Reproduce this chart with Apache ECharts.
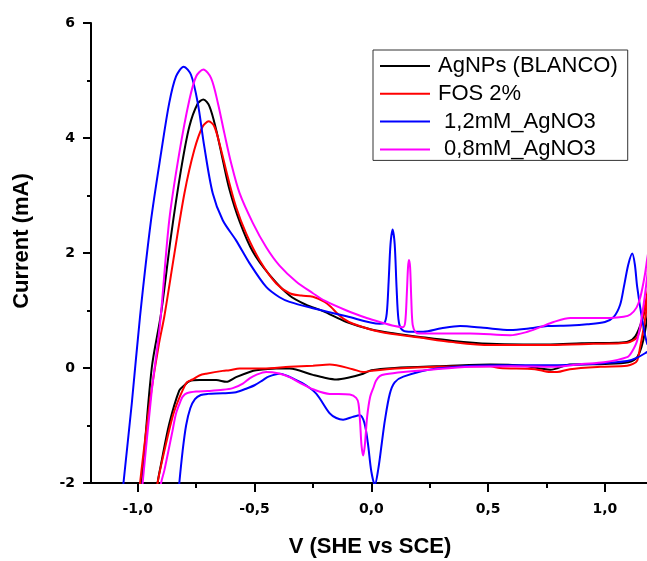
<!DOCTYPE html>
<html><head><meta charset="utf-8">
<script src="https://cdn.jsdelivr.net/npm/echarts@6/dist/echarts.min.js"></script>
<style>html,body{margin:0;padding:0;background:#fff}#c{width:647px;height:561px}</style>
</head><body><div id="c"></div>
<script>
// ---- data (potential V, current mA), each loop traced in scan order ----
const seriesNames = ['AgNPs (BLANCO)', 'FOS 2%', ' 1,2mM_AgNO3', ' 0,8mM_AgNO3'];
const seriesColors = ['#000000', '#ff0000', '#0000ff', '#ff00ff'];
const xMajorTicks = [-1, -0.5, 0, 0.5, 1];
const xMinorTicks = [-0.75, -0.25, 0.25, 0.75];
const yMajorTicks = [-2, 0, 2, 4, 6];
const yMinorTicks = [-1, 1, 3, 5];
const xRange = [-1.2, 1.18];
const yRange = [-2, 6];
const xTitle = 'V (SHE vs SCE)';
const yTitle = 'Current (mA)';

const blanco = [
  [-1.01,-3.2],[-0.983,-2.0],[-0.94,0.0],[-0.9,0.95],[-0.858,2.28],[-0.815,3.44],[-0.779,4.2],
  [-0.743,4.6],[-0.719,4.67],[-0.693,4.55],[-0.664,4.14],[-0.636,3.62],[-0.607,3.1],[-0.564,2.55],
  [-0.507,2.02],[-0.436,1.62],[-0.35,1.26],[-0.28,1.1],[-0.207,0.99],[-0.106,0.8],[0.0,0.67],
  [0.1,0.6],[0.208,0.54],[0.35,0.47],[0.509,0.42],[0.65,0.41],[0.766,0.41],[0.9,0.43],[1.05,0.44],
  [1.1,0.46],[1.13,0.55],[1.16,0.85],[1.2,1.5],
  [1.17,0.6],[1.14,0.2],[1.1,0.1],[1.0,0.07],[0.85,0.06],[0.766,-0.03],[0.65,0.04],[0.509,0.06],
  [0.28,0.03],[0.1,0.0],[0.0,-0.04],[-0.035,-0.1],[-0.1,-0.17],[-0.149,-0.2],[-0.2,-0.17],
  [-0.25,-0.12],[-0.35,-0.01],[-0.407,-0.01],[-0.493,-0.04],[-0.521,-0.07],[-0.579,-0.16],
  [-0.621,-0.24],[-0.664,-0.21],[-0.736,-0.21],[-0.779,-0.23],[-0.8,-0.3],[-0.822,-0.39],
  [-0.865,-0.97],[-0.9,-1.67],[-0.915,-2.0],[-0.94,-3.0]
];
const fos = [
  [-1.02,-3.2],[-0.99,-2.0],[-0.945,-0.5],[-0.91,0.4],[-0.886,0.9],[-0.843,1.99],[-0.8,3.04],
  [-0.758,3.79],[-0.722,4.2],[-0.696,4.29],[-0.672,4.2],[-0.643,3.79],[-0.615,3.33],[-0.579,2.8],
  [-0.536,2.34],[-0.479,1.88],[-0.407,1.47],[-0.35,1.3],[-0.3,1.26],[-0.25,1.24],[-0.2,1.15],
  [-0.17,1.05],[-0.149,0.96],[-0.12,0.86],[-0.078,0.77],[0.036,0.63],[0.208,0.53],[0.35,0.45],
  [0.509,0.40],[0.766,0.40],[0.95,0.42],[1.095,0.44],[1.138,0.54],[1.16,0.85],[1.181,1.3],[1.2,1.8],
  [1.19,1.4],[1.17,0.8],[1.15,0.35],[1.138,0.13],[1.12,0.07],[1.095,0.04],[0.98,0.02],[0.85,-0.02],
  [0.795,-0.07],[0.766,-0.07],[0.7,-0.02],[0.55,0.0],[0.509,0.03],[0.28,0.02],[0.108,-0.01],
  [0.0,-0.05],[-0.035,-0.07],[-0.08,-0.02],[-0.178,0.06],[-0.25,0.04],[-0.35,0.02],[-0.464,-0.01],
  [-0.564,-0.01],[-0.607,-0.04],[-0.636,-0.05],[-0.707,-0.1],[-0.736,-0.13],[-0.765,-0.2],
  [-0.79,-0.25],[-0.808,-0.39],[-0.83,-0.6],[-0.851,-0.85],[-0.879,-1.32],[-0.915,-2.0],[-0.94,-2.8]
];
const agno3_12 = [
  [-1.09,-3.2],[-1.061,-2.0],[-1.025,-0.6],[-0.99,0.9],[-0.943,2.57],[-0.9,3.74],[-0.865,4.61],
  [-0.836,5.07],[-0.803,5.24],[-0.772,5.1],[-0.743,4.61],[-0.715,3.85],[-0.679,3.04],[-0.636,2.57],
  [-0.579,2.22],[-0.521,1.82],[-0.45,1.41],[-0.393,1.23],[-0.35,1.15],[-0.25,1.04],[-0.106,0.9],
  [0.036,0.77],[0.055,0.78],[0.066,0.95],[0.074,1.5],[0.082,2.15],[0.091,2.41],[0.1,2.15],
  [0.108,1.4],[0.116,0.85],[0.128,0.68],[0.16,0.63],[0.222,0.63],[0.3,0.69],[0.38,0.73],[0.48,0.7],
  [0.594,0.66],[0.68,0.69],[0.752,0.73],[0.85,0.74],[0.924,0.76],[1.0,0.8],[1.038,0.89],
  [1.065,1.1],[1.081,1.41],[1.1,1.8],[1.117,1.99],[1.128,1.8],[1.138,1.41],[1.16,0.83],
  [1.181,0.42],[1.2,0.33],
  [1.181,0.28],[1.138,0.18],[1.095,0.12],[0.98,0.08],[0.78,0.05],[0.55,0.05],[0.28,-0.01],
  [0.137,-0.15],[0.1,-0.25],[0.079,-0.45],[0.058,-0.91],[0.045,-1.3],[0.03,-1.75],[0.015,-2.03],
  [0.0,-1.8],[-0.015,-1.3],[-0.03,-0.95],[-0.049,-0.82],[-0.08,-0.85],[-0.121,-0.9],[-0.15,-0.87],
  [-0.178,-0.79],[-0.235,-0.45],[-0.28,-0.3],[-0.321,-0.21],[-0.393,-0.1],[-0.44,-0.15],
  [-0.464,-0.21],[-0.5,-0.3],[-0.536,-0.36],[-0.579,-0.42],[-0.636,-0.44],[-0.7,-0.45],
  [-0.73,-0.47],[-0.755,-0.54],[-0.775,-0.7],[-0.793,-1.0],[-0.808,-1.45],[-0.822,-2.0],[-0.84,-2.8]
];
const agno3_08 = [
  [-1.01,-3.2],[-0.979,-2.0],[-0.94,-0.4],[-0.905,0.75],[-0.865,2.57],[-0.822,3.74],[-0.779,4.66],
  [-0.75,5.07],[-0.719,5.19],[-0.686,5.04],[-0.657,4.61],[-0.629,4.08],[-0.6,3.56],[-0.564,3.04],
  [-0.507,2.52],[-0.45,2.1],[-0.393,1.78],[-0.321,1.5],[-0.25,1.3],[-0.2,1.17],[-0.106,1.0],
  [-0.02,0.87],[0.036,0.8],[0.1,0.73],[0.135,0.71],[0.145,0.8],[0.152,1.3],[0.157,1.75],
  [0.161,1.88],[0.166,1.75],[0.171,1.2],[0.177,0.75],[0.19,0.62],[0.208,0.6],[0.3,0.6],[0.423,0.6],
  [0.594,0.57],[0.66,0.62],[0.723,0.71],[0.78,0.8],[0.852,0.87],[0.95,0.87],[1.024,0.87],
  [1.08,0.89],[1.109,0.93],[1.135,1.05],[1.152,1.24],[1.17,1.6],[1.181,1.9],[1.2,2.4],
  [1.19,2.0],[1.181,1.6],[1.16,0.95],[1.138,0.48],[1.115,0.28],[1.095,0.19],[0.995,0.1],[0.9,0.07],
  [0.78,0.02],[0.6,0.03],[0.423,0.02],[0.25,-0.03],[0.137,-0.07],[0.06,-0.11],[0.036,-0.14],
  [0.02,-0.22],[0.01,-0.33],[-0.005,-0.5],[-0.018,-0.85],[-0.028,-1.35],[-0.035,-1.52],
  [-0.042,-1.35],[-0.048,-0.95],[-0.055,-0.62],[-0.065,-0.52],[-0.092,-0.46],[-0.14,-0.45],
  [-0.178,-0.45],[-0.25,-0.37],[-0.3,-0.27],[-0.35,-0.16],[-0.4,-0.09],[-0.45,-0.07],[-0.493,-0.12],
  [-0.521,-0.18],[-0.55,-0.27],[-0.593,-0.35],[-0.636,-0.38],[-0.7,-0.4],[-0.75,-0.41],
  [-0.79,-0.44],[-0.808,-0.5],[-0.815,-0.56],[-0.836,-0.79],[-0.851,-1.09],[-0.886,-1.78],
  [-0.9,-2.0],[-0.92,-2.6]
];
const seriesData = [blanco, fos, agno3_12, agno3_08];

// ---- chart ----
const chart = echarts.init(document.getElementById('c'), null, {renderer: 'canvas', width: 647, height: 561});
const tickFont = {fontFamily: 'DejaVu Sans', fontWeight: 'bold', fontSize: 14, color: '#000'};
const titleFontCss = 'bold 22px "Liberation Sans", Arial, sans-serif';
const lineSt = () => ({color: '#000', width: 2});
const fmtComma = v => v.toFixed(1).replace('.', ',');

// main plotting grid geometry (pixels)
const G = {left: 91, right: 0, top: 23, bottom: 78};
const plotW = 647 - G.left - G.right, plotH = 561 - G.top - G.bottom;
const pxPerV = plotW / (xRange[1] - xRange[0]);
const pxPerMA = plotH / (yRange[1] - yRange[0]);
// helper grids whose axes extend half/one step beyond the plot, so that the
// major tick positions fall on minor-tick positions of those helper axes
const yHelpRange = [yRange[0] - 1, yRange[1] + 1];      // -3 .. 7, step 2 -> minors at -2,0,..,6
const xHelpRange = [-1.25, 1.25];                        // step 0.5 -> minors at -1,-0.5,..,1
const gridMain = Object.assign({containLabel: false, outerBoundsMode: 'none'}, G);
const gridY = {containLabel: false, outerBoundsMode: 'none', left: G.left, right: G.right,
  top: G.top - pxPerMA, bottom: G.bottom - pxPerMA};
const gridX = {containLabel: false, outerBoundsMode: 'none', top: G.top, bottom: G.bottom,
  left: G.left - (xRange[0] - xHelpRange[0]) * pxPerV,
  right: G.right - (xHelpRange[1] - xRange[1]) * pxPerV};

const tickOnlyX = (vals, len) => ({
  type: 'value', gridIndex: 0, min: xRange[0], max: xRange[1], position: 'bottom', offset: 0,
  axisLine: {show: false, onZero: false},
  axisTick: {show: true, customValues: vals, length: len, lineStyle: lineSt()},
  axisLabel: {show: false}, splitLine: {show: false}
});
const tickOnlyY = (vals, len) => ({
  type: 'value', gridIndex: 0, min: yRange[0], max: yRange[1], position: 'left', offset: 0,
  axisLine: {show: false, onZero: false},
  axisTick: {show: true, customValues: vals, length: len, lineStyle: lineSt()},
  axisLabel: {show: false}, splitLine: {show: false}
});

chart.setOption({
  animation: false,
  backgroundColor: '#fff',
  grid: [gridMain, gridY, gridX],
  legend: {
    orient: 'vertical', left: 373, top: 50,
    icon: 'rect', itemWidth: 50, itemHeight: 2, itemGap: 5.8,
    padding: [5, 10, 0, 7],
    borderColor: '#333', borderWidth: 1, borderRadius: 0, backgroundColor: '#fff',
    textStyle: {fontFamily: 'Liberation Sans', fontSize: 22, lineHeight: 22, color: '#000', padding: [0, 0, 0, 3]},
    data: seriesNames
  },
  graphic: [
    {type: 'text', x: 370, y: 547, silent: true,
     style: {text: xTitle, font: titleFontCss, fill: '#000', align: 'center', verticalAlign: 'middle'}},
    {type: 'text', x: 22, y: 241, rotation: Math.PI / 2, silent: true,
     style: {text: yTitle, font: titleFontCss, fill: '#000', align: 'center', verticalAlign: 'middle'}}
  ],
  xAxis: [{
    type: 'value', gridIndex: 0, min: xRange[0], max: xRange[1], position: 'bottom',
    axisLine: {show: true, onZero: false, lineStyle: lineSt()},
    axisTick: {show: true, customValues: xMajorTicks, length: 9, lineStyle: lineSt()},
    axisLabel: {customValues: xMajorTicks, formatter: fmtComma, margin: 19, ...tickFont},
    splitLine: {show: false}
  },
  tickOnlyX(xMinorTicks, 5),
  // helper for grid 1 (hidden)
  {type: 'value', gridIndex: 1, min: xRange[0], max: xRange[1], show: false},
  // helper for grid 2: its minor ticks mark the major positions of the main x axis
  {type: 'value', gridIndex: 2, min: xHelpRange[0], max: xHelpRange[1], interval: 0.5, position: 'bottom',
   axisLine: {show: false, onZero: false}, axisTick: {show: false}, axisLabel: {show: false},
   splitLine: {show: false}, minorSplitLine: {show: false},
   minorTick: {show: true, splitNumber: 2, length: 9, lineStyle: lineSt()}}
  ],
  yAxis: [{
    type: 'value', gridIndex: 0, min: yRange[0], max: yRange[1], interval: 2, position: 'left',
    axisLine: {show: true, onZero: false, lineStyle: lineSt()},
    axisTick: {show: true, length: 8, lineStyle: lineSt()},
    splitLine: {show: false},
    axisLabel: {margin: 16, ...tickFont}
  },
  tickOnlyY(yMinorTicks, 4),
  // helper for grid 1: its minor ticks mark the major positions of the main y axis
  {type: 'value', gridIndex: 1, min: yHelpRange[0], max: yHelpRange[1], interval: 2, position: 'left',
   axisLine: {show: false, onZero: false}, axisTick: {show: false}, axisLabel: {show: false},
   splitLine: {show: false}, minorSplitLine: {show: false},
   minorTick: {show: true, splitNumber: 2, length: 8, lineStyle: lineSt()}},
  // helper for grid 2 (hidden)
  {type: 'value', gridIndex: 2, min: yRange[0], max: yRange[1], show: false}
  ],
  series: seriesData.map((d, k) => ({
    type: 'line', name: seriesNames[k], data: d, xAxisIndex: 0, yAxisIndex: 0,
    symbol: 'none', smooth: 0.3, clip: true,
    lineStyle: {color: seriesColors[k], width: 2},
    itemStyle: {color: seriesColors[k]},
    z: 2 + k
  }))
});
</script></body></html>
